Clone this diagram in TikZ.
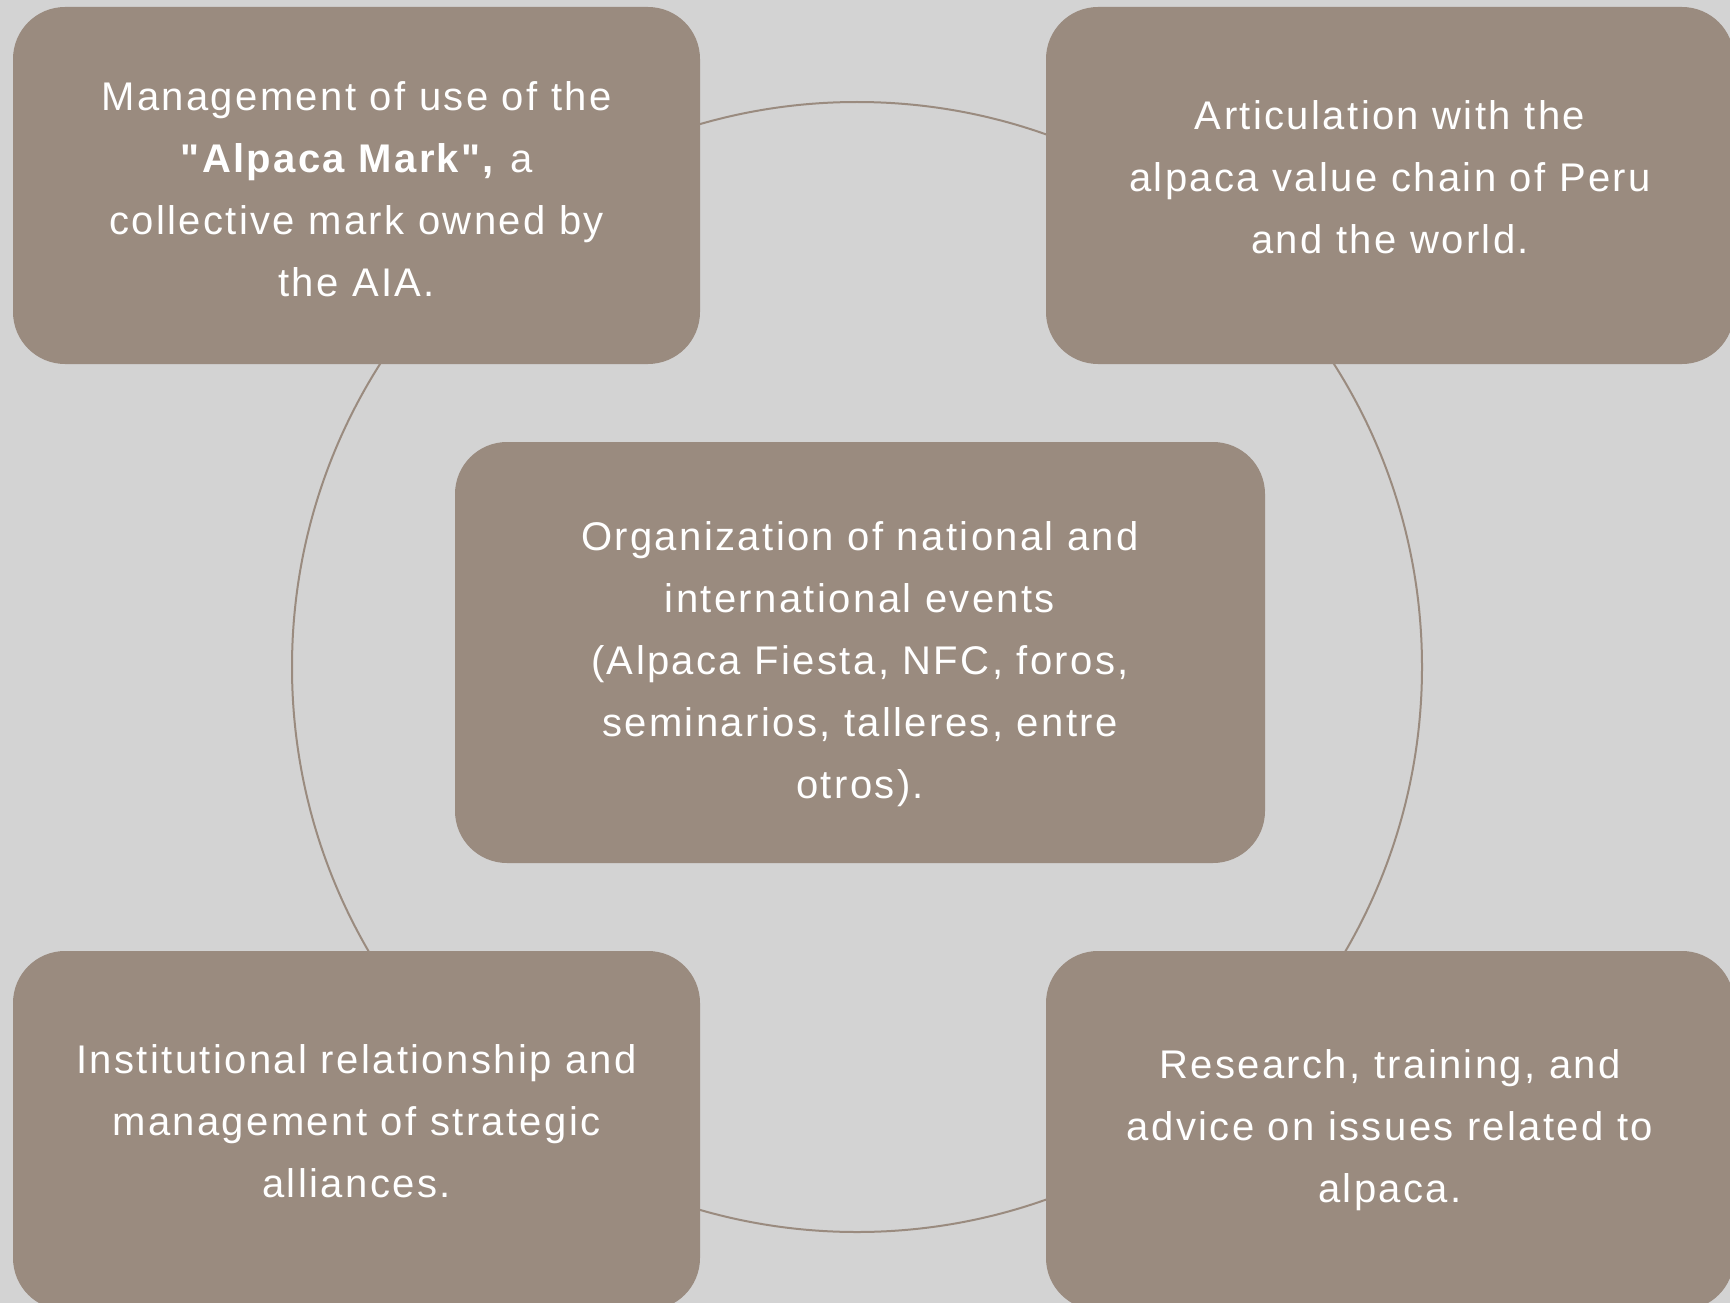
\documentclass[tikz,border=0pt]{standalone}
\usepackage{fontspec}
\newfontfamily\cardfont{Liberation Sans}[LetterSpace=6]
\definecolor{paper}{HTML}{D3D3D3}
\definecolor{taupe}{HTML}{9A8B7F}
% invisible struts to nudge a text block up (\lowerby) or down (\topby)
\newcommand\lowerby[1]{\rule[-#1]{0pt}{#1}}
\newcommand\topby[1]{\rule{0pt}{#1}}
\tikzset{
  card/.style={rectangle, rounded corners=52pt, fill=taupe, text=white,
    align=center, inner sep=0pt, minimum width=687pt, minimum height=357pt,
    font=\cardfont\fontsize{40}{62}\selectfont},
  ring/.style={draw=taupe, line width=2pt}
}
\begin{document}
\begin{tikzpicture}[x=1pt,y=-1pt]
\fill[paper] (0,0) rectangle (1730,1303);
\useasboundingbox (0,0) rectangle (1730,1303);
% ring behind the cards
\coordinate (hub) at (857,667);
\draw[ring] (hub) circle [radius=565];
\node[card] (mark) at (356.5,185.5)
  {\topby{36pt}Management of use of the\\\textbf{"Alpaca Mark",} a\\collective mark owned by\\the AIA.};
\node[card, minimum width=688pt] (chain) at (1390,185.5)
  {Articulation with the\\alpaca value chain of Peru\\and the world.\lowerby{16pt}};
\node[card, minimum width=810pt, minimum height=421pt] (events) at (860,652.5)
  {\topby{53pt}Organization of national and\\international events\\(Alpaca Fiesta, NFC, foros,\\seminarios, talleres, entre\\otros).};
\node[card, minimum height=359pt] (allies) at (356.5,1130.5)
  {Institutional relationship and\\management of strategic\\alliances.\lowerby{20pt}};
\node[card, minimum width=688pt, minimum height=359pt] (research) at (1390,1130.5)
  {Research, training, and\\advice on issues related to\\alpaca.};
\end{tikzpicture}
\end{document}
